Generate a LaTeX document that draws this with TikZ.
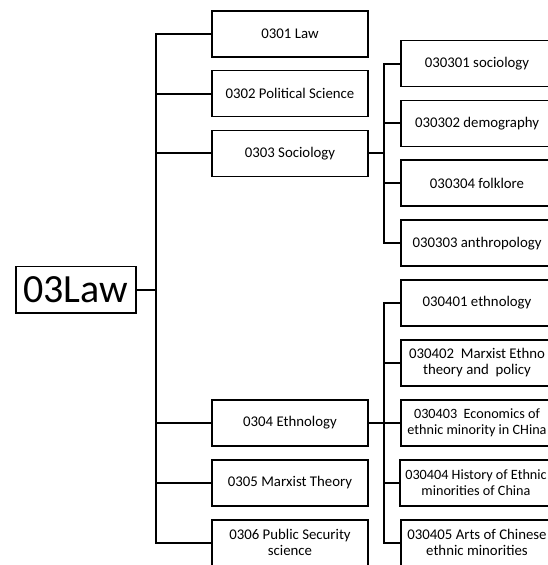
\documentclass[tikz,border=0pt]{standalone}
\usepackage{fontspec}
\setmainfont{Carlito}
\begin{document}
\begin{tikzpicture}[x=1pt,y=-1pt,
  box/.style={draw=black,line width=1.8pt,inner sep=0pt,align=center,
    font=\fontsize{14.8}{16}\selectfont},
  lone/.style={box,minimum width=156pt,minimum height=46pt},
  ltwo/.style={box,minimum width=152pt,minimum height=46pt},
  tight/.style={font=\fontsize{14.2}{16}\selectfont},
  rootbox/.style={box,minimum width=120pt,minimum height=46.5pt,font=\fontsize{40}{44}\selectfont},
  conn/.style={line width=2pt,line cap=rect}]
\useasboundingbox (0,0) rectangle (548,565);
\clip (0,0) rectangle (548,565);
\fill[white] (0,0) rectangle (548,565);
% root
\node[rootbox] (root) at (75.7,289.7) {03Law};
% level 1
\node[lone] (a1) at (290,33.6) {0301 Law};
\node[lone] (a2) at (290,93.5) {0302 Political Science};
\node[lone] (a3) at (290,153.4) {0303 Sociology};
\node[lone] (a4) at (290,422.9) {0304 Ethnology};
\node[lone] (a5) at (290,482.8) {0305 Marxist Theory};
\node[lone] (a6) at (290,542.7) {0306 Public Security\\science};
% level 2
\node[ltwo] (b1) at (477,63.5) {030301 sociology};
\node[ltwo] (b2) at (477,123.4) {030302 demography};
\node[ltwo] (b3) at (477,183.3) {030304 folklore};
\node[ltwo] (b4) at (477,243.2) {030303 anthropology};
\node[ltwo] (c1) at (477,303.1) {030401 ethnology};
\node[ltwo] (c2) at (477,363.0) {030402\ \ Marxist Ethno\\theory and\ \ policy};
\node[ltwo,tight] (c3) at (477,422.9) {030403\ \ Economics of\\ethnic minority in CHina};
\node[ltwo,tight] (c4) at (476,482.8) {030404 History of Ethnic\\minorities of China};
\node[ltwo] (c5) at (477,542.7) {030405 Arts of Chinese\\ethnic minorities};
% trunk coordinates
\coordinate (t) at (155.5,0);
\coordinate (s) at (384,0);
% root trunk
\draw[conn] (root.east) -- (root.east -| t);
\draw[conn] (a1.west -| t) -- (a6.west -| t);
\foreach \n in {a1,a2,a3,a4,a5,a6} \draw[conn] (\n.west) -- (\n.west -| t);
% sociology sub-trunk
\draw[conn] (a3.east) -- (a3.east -| s);
\draw[conn] (b1.west -| s) -- (b4.west -| s);
\foreach \n in {b1,b2,b3,b4} \draw[conn] (\n.west) -- (\n.west -| s);
% ethnology sub-trunk
\draw[conn] (a4.east) -- (a4.east -| s);
\draw[conn] (c1.west -| s) -- (c5.west -| s);
\foreach \n in {c1,c2,c3,c4,c5} \draw[conn] (\n.west) -- (\n.west -| s);
\end{tikzpicture}
\end{document}
